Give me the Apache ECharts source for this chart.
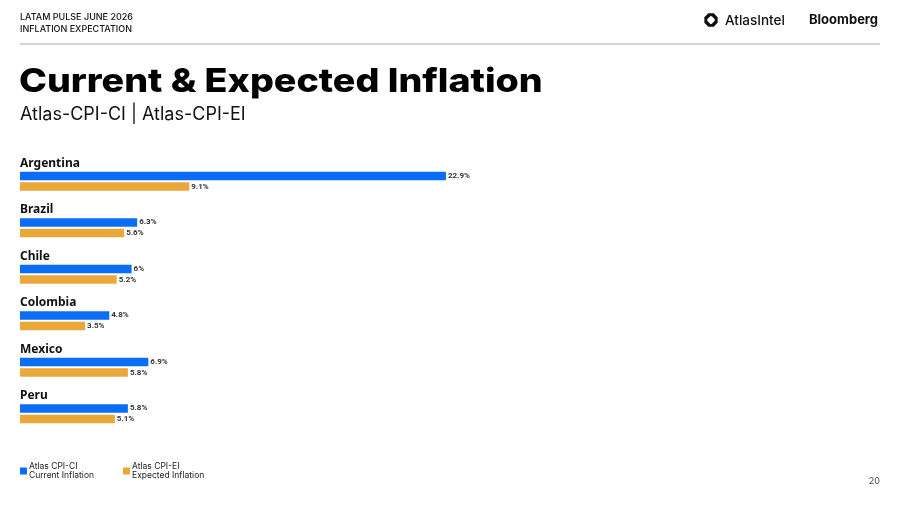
<!DOCTYPE html>
<html>
<head>
<meta charset="utf-8">
<script src="https://cdn.jsdelivr.net/npm/echarts@6/dist/echarts.min.js"></script>
<style>
  html, body { margin: 0; padding: 0; background: #fff; }
  #chart { width: 900px; height: 506px; }
</style>
</head>
<body>
<div id="chart"></div>
<script>
const countries = ['Argentina', 'Brazil', 'Chile', 'Colombia', 'Mexico', 'Peru']
const currentInflation = [22.9, 6.3, 6, 4.8, 6.9, 5.8]
const expectedInflation = [9.1, 5.6, 5.2, 3.5, 5.8, 5.1]
const seriesNames = ['Atlas CPI-CI\nCurrent Inflation', 'Atlas CPI-EI\nExpected Inflation']

const blue = '#0b6cf4'
const orange = '#eaa73a'

const chart = echarts.init(document.getElementById('chart'))

const valueLabel = {
  show: true,
  position: 'right',
  distance: 2,
  fontFamily: 'Roboto',
  fontWeight: 'bold',
  fontSize: 8,
  color: '#333',
  formatter: (p) => p.value + '%'
}

// regular octagon for the AtlasIntel mark
const octagon = []
for (let i = 0; i < 8; i++) {
  const a = Math.PI / 8 + i * Math.PI / 4
  octagon.push([711 + 7.2 * Math.cos(a), 20 + 7.2 * Math.sin(a)])
}

const option = {
  animation: false,
  backgroundColor: '#fff',
  grid: {
    left: 20,
    top: 158,
    width: 465,
    height: 279
  },
  legend: {
    left: 20,
    top: 462,
    padding: 0,
    orient: 'horizontal',
    icon: 'rect',
    itemWidth: 7,
    itemHeight: 7,
    itemGap: 29,
    selectedMode: false,
    textStyle: {
      fontFamily: 'Inter',
      fontSize: 8.5,
      lineHeight: 9,
      color: '#222',
      padding: [0, 0, 0, -3]
    },
    data: seriesNames
  },
  xAxis: {
    type: 'value',
    min: 0,
    max: 25,
    show: false
  },
  yAxis: {
    type: 'category',
    inverse: true,
    data: countries,
    axisLine: { show: false },
    axisTick: { show: false },
    splitLine: { show: false },
    axisLabel: {
      inside: true,
      interval: 0,
      showMinLabel: true,
      showMaxLabel: true,
      margin: 0,
      align: 'left',
      verticalAlign: 'bottom',
      formatter: (v) => '{n|' + v + '}\n{s| }',
      rich: {
        n: {
          fontFamily: 'Noto Sans',
          fontWeight: 'bold',
          fontSize: 12,
          lineHeight: 13,
          color: '#111'
        },
        s: { fontSize: 6, lineHeight: 11.5 }
      }
    }
  },
  series: [
    {
      name: seriesNames[0],
      type: 'bar',
      data: currentInflation,
      barWidth: 8.5,
      barGap: '25%',
      itemStyle: { color: blue },
      label: valueLabel
    },
    {
      name: seriesNames[1],
      type: 'bar',
      data: expectedInflation,
      barWidth: 8.5,
      itemStyle: { color: orange },
      label: valueLabel
    }
  ],
  graphic: [
    {
      type: 'text',
      left: 20,
      top: 13,
      style: { text: 'LATAM PULSE JUNE 2026', font: '500 9px Inter', fill: '#111' }
    },
    {
      type: 'text',
      left: 20,
      top: 25,
      style: { text: 'INFLATION EXPECTATION', font: '500 9px Inter', fill: '#111' }
    },
    {
      type: 'line',
      shape: { x1: 20, y1: 44, x2: 880, y2: 44 },
      style: { stroke: '#a8a8a8', lineWidth: 1 }
    },
    {
      type: 'polygon',
      shape: { points: octagon },
      style: { fill: '#111' }
    },
    {
      type: 'rect',
      x: 711,
      y: 20,
      rotation: Math.PI / 4,
      shape: { x: -3.2, y: -3.2, width: 6.4, height: 6.4, r: 1.5 },
      style: { fill: '#fff' }
    },
    {
      type: 'text',
      left: 725,
      top: 14,
      style: { text: 'AtlasIntel', font: '500 13.5px Inter', fill: '#111' }
    },
    {
      type: 'text',
      left: 809,
      top: 14,
      style: { text: 'Bloomberg', font: 'bold 13px Inter', fill: '#111' }
    },
    {
      type: 'text',
      x: 19,
      y: 66,
      scaleX: 1.14,
      style: { text: 'Current & Expected Inflation', font: '800 33px Inter', fill: '#000' }
    },
    {
      type: 'text',
      left: 20,
      top: 106,
      style: { text: 'Atlas-CPI-CI | Atlas-CPI-EI', font: '18px Inter', fill: '#111' }
    },
    {
      type: 'text',
      right: 20,
      top: 477,
      style: { text: '20', font: '9px Inter', fill: '#444' }
    }
  ]
}

chart.setOption(option)
</script>
</body>
</html>
